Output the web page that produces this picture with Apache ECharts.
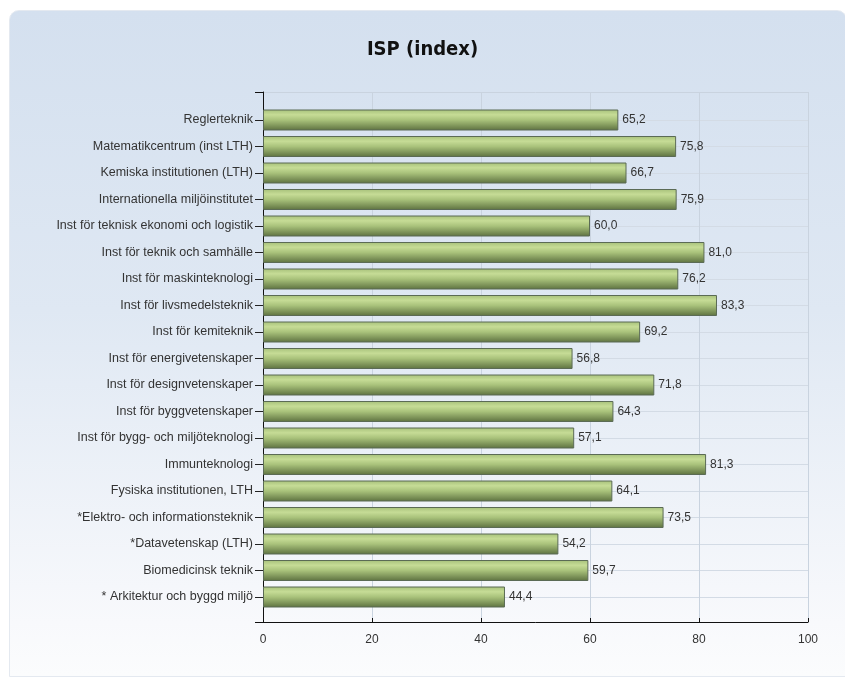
<!DOCTYPE html>
<html>
<head>
<meta charset="utf-8">
<script src="https://cdn.jsdelivr.net/npm/echarts@6/dist/echarts.min.js"></script>
<style>
  html, body { margin: 0; padding: 0; background: #fff; }
  #panel {
    position: absolute; left: 9px; top: 10px; width: 836px; height: 665px;
    border-radius: 10px 10px 0 0;
    border: 1px solid #e4e9f0;
    background: linear-gradient(180deg, #d4e0ef 0%, #dfe8f3 45%, #f8f9fc 92%, #fbfcfd 100%);
  }
  #chart { position: absolute; left: 0; top: 0; width: 845px; height: 677px; }
</style>
</head>
<body>
<div id="panel"></div>
<div id="chart"></div>
<script>
// categories, top to bottom as drawn
const departments = [
  'Reglerteknik',
  'Matematikcentrum (inst LTH)',
  'Kemiska institutionen (LTH)',
  'Internationella miljöinstitutet',
  'Inst för teknisk ekonomi och logistik',
  'Inst för teknik och samhälle',
  'Inst för maskinteknologi',
  'Inst för livsmedelsteknik',
  'Inst för kemiteknik',
  'Inst för energivetenskaper',
  'Inst för designvetenskaper',
  'Inst för byggvetenskaper',
  'Inst för bygg- och miljöteknologi',
  'Immunteknologi',
  'Fysiska institutionen, LTH',
  '*Elektro- och informationsteknik',
  '*Datavetenskap (LTH)',
  'Biomedicinsk teknik',
  '* Arkitektur och byggd miljö'
];
const ispValues = [65.2, 75.8, 66.7, 75.9, 60.0, 81.0, 76.2, 83.3, 69.2, 56.8,
  71.8, 64.3, 57.1, 81.3, 64.1, 73.5, 54.2, 59.7, 44.4];
const xTicks = [0, 20, 40, 60, 80, 100];

const chart = echarts.init(document.getElementById('chart'));
const labelFont = { fontFamily: 'Liberation Sans, Arial, sans-serif', fontSize: 12, color: '#333' };
const fmt = (v) => Number(v).toFixed(1).replace('.', ',');

chart.setOption({
  backgroundColor: 'transparent',
  animation: false,
  title: {
    text: 'ISP (index)',
    left: 'center',
    top: 35,
    textStyle: { fontFamily: 'DejaVu Sans Condensed, DejaVu Sans', fontWeight: 'bold', fontSize: 20, color: '#111' }
  },
  grid: [
    // frame: axes, vertical grid lines
    { left: 263, right: 37, top: 92, bottom: 55 },
    // bars: category centres from first to last bar
    { left: 263, right: 37, top: 120, bottom: 80 }
  ],
  xAxis: [
    {
      gridIndex: 0, type: 'value', min: 0, max: 100, interval: 20,
      axisLine: { show: true, lineStyle: { color: '#111', width: 1 } },
      axisTick: { show: true, length: 4, inside: true, lineStyle: { color: '#111' } },
      axisLabel: Object.assign({ margin: 12, formatter: (v) => xTicks.includes(v) ? String(v) : '' }, labelFont),
      splitLine: { show: true, lineStyle: { color: '#c9d3df', width: 1 } }
    },
    {
      gridIndex: 1, type: 'value', min: 0, max: 100, show: false
    }
  ],
  yAxis: [
    {
      gridIndex: 0, type: 'value', min: 0, max: 1, interval: 1,
      axisLine: { show: true, lineStyle: { color: '#111', width: 1 } },
      axisTick: { show: true, length: 8, lineStyle: { color: '#111' } },
      axisLabel: { show: false },
      splitLine: { show: true, lineStyle: { color: '#c9d3df', width: 1 } }
    },
    {
      gridIndex: 1, type: 'category', data: departments, inverse: true, boundaryGap: false,
      axisLine: { show: false },
      axisTick: { show: true, length: 8, lineStyle: { color: '#222' } },
      axisLabel: Object.assign({ margin: 10, interval: 0 }, labelFont, { fontSize: 12.5 }),
      splitLine: { show: true, lineStyle: { color: '#d3dbe5', width: 1 } }
    }
  ],
  series: [
    {
      type: 'bar',
      xAxisIndex: 1,
      yAxisIndex: 1,
      data: ispValues,
      barWidth: 21,
      clip: false,
      itemStyle: {
        borderColor: '#5b6b55',
        borderWidth: 1,
        color: new echarts.graphic.LinearGradient(0, 0, 0, 1, [
          { offset: 0, color: '#a6c07a' },
          { offset: 0.25, color: '#c6dc96' },
          { offset: 0.5, color: '#a9c27b' },
          { offset: 1, color: '#5d7140' }
        ])
      },
      label: Object.assign({
        show: true, position: 'right', distance: 4,
        formatter: (p) => fmt(p.value)
      }, labelFont)
    }
  ]
});
</script>
</body>
</html>
